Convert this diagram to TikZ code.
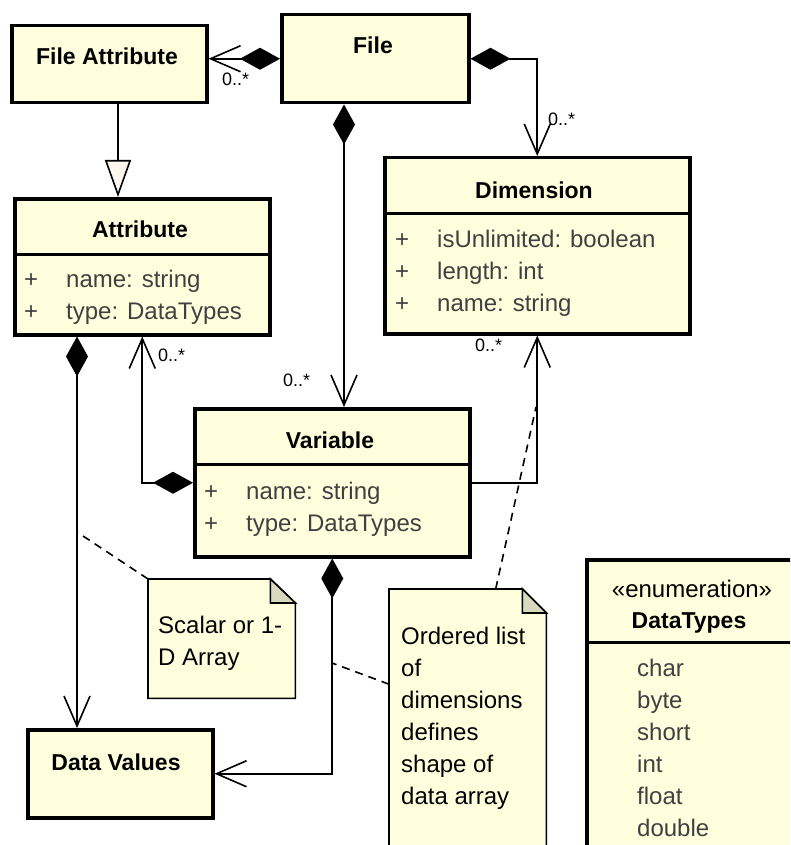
\documentclass[tikz,border=0pt]{standalone}
\usepackage{fontspec}
\setmainfont{Liberation Sans}
\usepackage{xcolor}
\usetikzlibrary{arrows.meta}

\definecolor{clsfill}{RGB}{255,255,222}
\definecolor{foldfill}{RGB}{216,216,190}
\definecolor{genfill}{RGB}{253,245,238}
\definecolor{attrgray}{RGB}{64,64,64}

\tikzset{
	cls/.style={draw=black, fill=clsfill, line width=3.5pt, inner sep=0pt, anchor=north west},
	clssep/.style={line width=3pt},
	ctitle/.style={font=\fontsize{23}{28}\selectfont\bfseries, anchor=base, inner sep=0pt},
	cattr/.style={font=\fontsize{24}{32}\selectfont, text=attrgray, anchor=north west, inner sep=0pt},
	mult/.style={font=\fontsize{18}{20}\selectfont, anchor=base west, inner sep=0pt},
	assoc/.style={line width=1.6pt, -{Straight Barb[length=30pt,width=26pt]}},
	comp/.style={line width=1.6pt, {Diamond[length=40pt,width=22pt]}-{Straight Barb[length=30pt,width=26pt]}},
	gen/.style={line width=1.6pt, -{Triangle[length=37pt,width=26pt,fill=genfill]}},
	notebg/.style={draw=none, inner sep=0pt, anchor=north west},
	notebox/.style={draw=black, fill=clsfill, line width=1.6pt},
	notefold/.style={draw=black, fill=foldfill, line width=1.6pt},
	notetxt/.style={font=\fontsize{24}{32}\selectfont, anchor=north west, inner sep=0pt},
	anchorline/.style={line width=1.6pt, dash pattern=on 8pt off 6pt}
}

\begin{document}
\begin{tikzpicture}[x=1pt,y=-1pt]
	\useasboundingbox (0,0) rectangle (790,845);
	\clip (0,0) rectangle (790,845);

	\node[cls, minimum width=195pt, minimum height=77pt] (fattr) at (10,24) {};
	\node[cls, minimum width=187pt, minimum height=88pt] (file) at (280,13) {};
	\node[cls, minimum width=255pt, minimum height=136pt] (attrib) at (13,197) {};
	\node[cls, minimum width=305pt, minimum height=176pt] (dim) at (383,156) {};
	\node[cls, minimum width=275pt, minimum height=148pt] (var) at (193,407) {};
	\node[cls, minimum width=185pt, minimum height=88pt] (dval) at (26,728) {};
	\node[cls, minimum width=240pt, minimum height=320pt] (dtypes) at (585,558) {};

	\draw[clssep] ([yshift=-57pt]attrib.north west) -- ([yshift=-57pt]attrib.north east);
	\draw[clssep] ([yshift=-57pt]dim.north west) -- ([yshift=-57pt]dim.north east);
	\draw[clssep] ([yshift=-57pt]var.north west) -- ([yshift=-57pt]var.north east);
	\draw[clssep] ([yshift=-84pt]dtypes.north west) -- ([yshift=-84pt]dtypes.north east);

	\node[ctitle] (fattrT) at (107,65) {File Attribute};
	\node[ctitle] (fileT) at (373,54) {File};
	\node[ctitle] (attribT) at (140,237) {Attribute};
	\node[ctitle] (dimT) at (534,198) {Dimension};
	\node[ctitle] (varT) at (330,448) {Variable};
	\node[ctitle] (dvalT) at (116,770) {Data Values};
	\node[ctitle, font=\fontsize{24}{28}\selectfont] (dtypesS) at (692,597) {«enumeration»};
	\node[ctitle] (dtypesT) at (689,628) {DataTypes};

	\node[cattr] (attribA) at (24,265) {
		\begin{tabular}{@{}p{42pt}@{}l@{}}
			+ & name: string \\
			+ & type: DataTypes
		\end{tabular}
	};
	\node[cattr] (dimA) at (395,225) {
		\begin{tabular}{@{}p{42pt}@{}l@{}}
			+ & isUnlimited: boolean \\
			+ & length: int \\
			+ & name: string
		\end{tabular}
	};
	\node[cattr] (varA) at (204,477) {
		\begin{tabular}{@{}p{42pt}@{}l@{}}
			+ & name: string \\
			+ & type: DataTypes
		\end{tabular}
	};
	\node[cattr] (dtypesA) at (637,654) {
		\begin{tabular}{@{}l@{}}
			char \\ byte \\ short \\ int \\ float \\ double
		\end{tabular}
	};

	\node[notebg, minimum width=147pt, minimum height=119pt] (scalar) at (148,579) {};
	\filldraw[notebox] (scalar.north west) -- ([xshift=-25pt]scalar.north east) -- ([yshift=-24pt]scalar.north east) -- (scalar.south east) -- (scalar.south west) -- cycle;
	\filldraw[notefold] ([xshift=-25pt]scalar.north east) -- ([xshift=-25pt,yshift=-24pt]scalar.north east) -- ([yshift=-24pt]scalar.north east) -- cycle;
	\node[notetxt] (scalarT) at (158,611) {
		\begin{tabular}{@{}l@{}}
			Scalar or 1- \\
			D Array
		\end{tabular}
	};

	\node[notebg, minimum width=157pt, minimum height=280pt] (order) at (389,589) {};
	\filldraw[notebox] (order.north west) -- ([xshift=-24pt]order.north east) -- ([yshift=-24pt]order.north east) -- (order.south east) -- (order.south west) -- cycle;
	\filldraw[notefold] ([xshift=-24pt]order.north east) -- ([xshift=-24pt,yshift=-24pt]order.north east) -- ([yshift=-24pt]order.north east) -- cycle;
	\node[notetxt] (orderT) at (401,622) {
		\begin{tabular}{@{}l@{}}
			Ordered list \\ of \\ dimensions \\ defines \\ shape of \\ data array
		\end{tabular}
	};

	\coordinate (fvx) at (344,0);
	\coordinate (gx) at (118,0);
	\coordinate (adx) at (77,0);

	\draw[comp] (file.west) -- (fattr.east |- file.west);
	\draw[comp] (file.east) -| (dim.north);
	\draw[comp] (file.south -| fvx) -- (var.north -| fvx);
	\draw[gen] (fattr.south -| gx) -- (attrib.north -| gx);
	\draw[comp] (var.west) -| (attrib.south);
	\draw[assoc] (var.east) -| (dim.south);
	\draw[comp] (attrib.south -| adx) -- (dval.north -| adx);
	\draw[comp] (var.south) |- (dval.east);

	\node[mult] (mFattr) at (222,86) {0..*};
	\node[mult] (mDim) at (548,126) {0..*};
	\node[mult] (mVar) at (283,386) {0..*};
	\node[mult] (mAttr) at (158,361) {0..*};
	\node[mult] (mDimV) at (475,351) {0..*};

	\coordinate (sc) at (77,532);
	\coordinate (od) at (536,407);
	\coordinate (ov) at (332,663);
	\draw[anchorline] (scalar.north west) -- (sc);
	\draw[anchorline] ([xshift=28pt]order.north) -- (od);
	\draw[anchorline] ([yshift=45pt]order.west) -- (ov);
\end{tikzpicture}
\end{document}
